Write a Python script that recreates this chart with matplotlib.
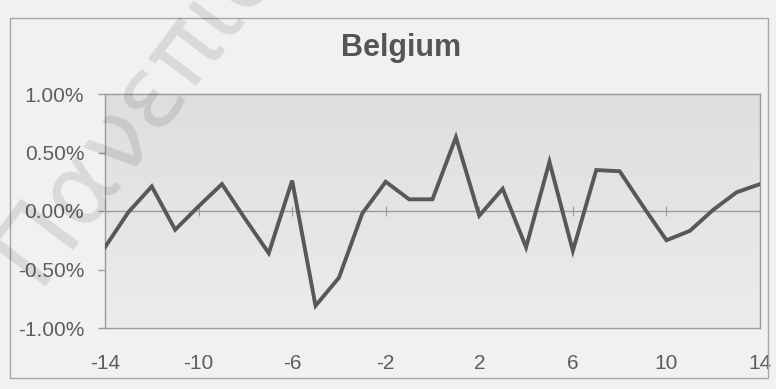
import numpy as np
import matplotlib
matplotlib.use("Agg")
import matplotlib.pyplot as plt
from matplotlib.patches import Rectangle
from matplotlib.ticker import FuncFormatter

plt.rcParams['font.family'] = ['Liberation Sans', 'DejaVu Sans']
plt.rcParams['axes.unicode_minus'] = False

# event window (days) and abnormal return, in percent
days = list(range(-14, 15))
returns = [-0.31, -0.01, 0.21, -0.16, 0.04, 0.23, -0.07, -0.36, 0.26, -0.81,
           -0.57, -0.02, 0.25, 0.10, 0.10, 0.63, -0.04, 0.19, -0.31, 0.42,
           -0.34, 0.35, 0.34, 0.04, -0.25, -0.17, 0.01, 0.16, 0.23]
x_ticks = [-14, -10, -6, -2, 2, 6, 10, 14]
y_ticks = [-1.0, -0.5, 0.0, 0.5, 1.0]
title = "Belgium"

W, H = 776, 389
fig = plt.figure(figsize=(W / 100, H / 100), dpi=100)
fig.patch.set_facecolor('#f1f1f1')

# outer chart frame
fig.add_artist(Rectangle((10 / W, 1 - 378 / H), 758 / W, 360 / H,
                         transform=fig.transFigure, fill=False,
                         edgecolor='#a5a5a5', linewidth=1))

ax = fig.add_axes([105 / W, 1 - 328 / H, 655 / W, 234 / H])
ax.set_xlim(-14, 14)
ax.set_ylim(-1.0, 1.0)

# soft grey gradient in the plot area
grad = np.linspace(0, 1, 256).reshape(-1, 1)
ax.imshow(grad, cmap=matplotlib.colors.LinearSegmentedColormap.from_list(
    'bg', ['#ececec', '#dedede']), origin='lower', aspect='auto',
    extent=(-14, 14, -1.0, 1.0), zorder=0)

ax.axhline(0, color='#9a9a9a', linewidth=1, zorder=1)
ax.plot(x_ticks, [0] * len(x_ticks), linestyle='none', marker='|',
        markersize=7, color='#9a9a9a', markeredgewidth=0.8, zorder=1)

ax.plot(days, returns, color='#585858', linewidth=2.8, zorder=3,
        solid_joinstyle='miter')

for s in ax.spines.values():
    s.set_color('#9a9a9a')
    s.set_linewidth(1)

ax.set_xticks(x_ticks)
ax.set_yticks(y_ticks)
ax.yaxis.set_major_formatter(FuncFormatter(lambda v, p: f"{v:.2f}%"))
ax.tick_params(axis='x', length=0, pad=19, labelsize=15, labelcolor='#5e5e5e')
ax.tick_params(axis='y', length=5, width=1, color='#9a9a9a', pad=10,
               labelsize=15, labelcolor='#5e5e5e')

fig.text(401 / W, 1 - 48 / H, title, ha='center', va='center',
         fontsize=22, fontweight='bold', color='#555555')

# faint diagonal stamp across the upper left
fig.text(36 / W, 1 - 287 / H, "Πανεπιστήμιο", rotation=53,
         rotation_mode='anchor', ha='left', va='baseline', fontsize=72,
         color='black', alpha=0.1, family=['DejaVu Sans'], zorder=10)

fig.savefig('out.png', dpi=100, facecolor=fig.get_facecolor())
